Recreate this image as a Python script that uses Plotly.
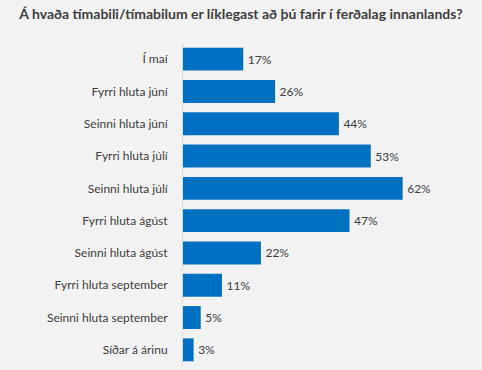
import plotly.graph_objects as go

categories = ["Í maí", "Fyrri hluta júní", "Seinni hluta júní", "Fyrri hluta júlí",
              "Seinni hluta júlí", "Fyrri hluta ágúst", "Seinni hluta ágúst",
              "Fyrri hluta september", "Seinni hluta september", "Síðar á árinu"]
values = [17, 26, 44, 53, 62, 47, 22, 11, 5, 3]
labels = [f"\u2009{v}%" for v in values]
title = "Á hvaða tímabili/tímabilum er líklegast að þú farir í ferðalag innanlands?"

fig = go.Figure(go.Bar(
    x=values, y=categories, orientation="h",
    marker=dict(color="#0070C0", line=dict(width=0)),
    text=labels, textposition="outside", cliponaxis=False,
    textfont=dict(family="Lato, Open Sans, sans-serif", size=12, color="#404040"),
    hoverinfo="skip",
))
fig.update_layout(
    width=482, height=370,
    paper_bgcolor="#F2F2F2", plot_bgcolor="#F2F2F2",
    margin=dict(l=183, r=51, t=43, b=4, autoexpand=False),
    bargap=0.29,
    showlegend=False,
    title=dict(text="<b>" + title + "</b>", x=0.5, xanchor="center", y=0.962, yanchor="middle",
               font=dict(family="Lato, Open Sans, sans-serif", size=14, color="#404040")),
    xaxis=dict(range=[0, 70], visible=False, showgrid=False, zeroline=False, automargin=False),
    yaxis=dict(autorange="reversed", showline=True, linecolor="#D9D9D9", linewidth=1,
               ticks="", showgrid=False, ticklabelstandoff=12, automargin=False,
               tickfont=dict(family="Lato, Open Sans, sans-serif", size=12, color="#404040")),
)
fig.write_html("out.html", config={"displayModeBar": False},
               post_script="document.body.style.margin='0';document.body.style.background='#F2F2F2';")
